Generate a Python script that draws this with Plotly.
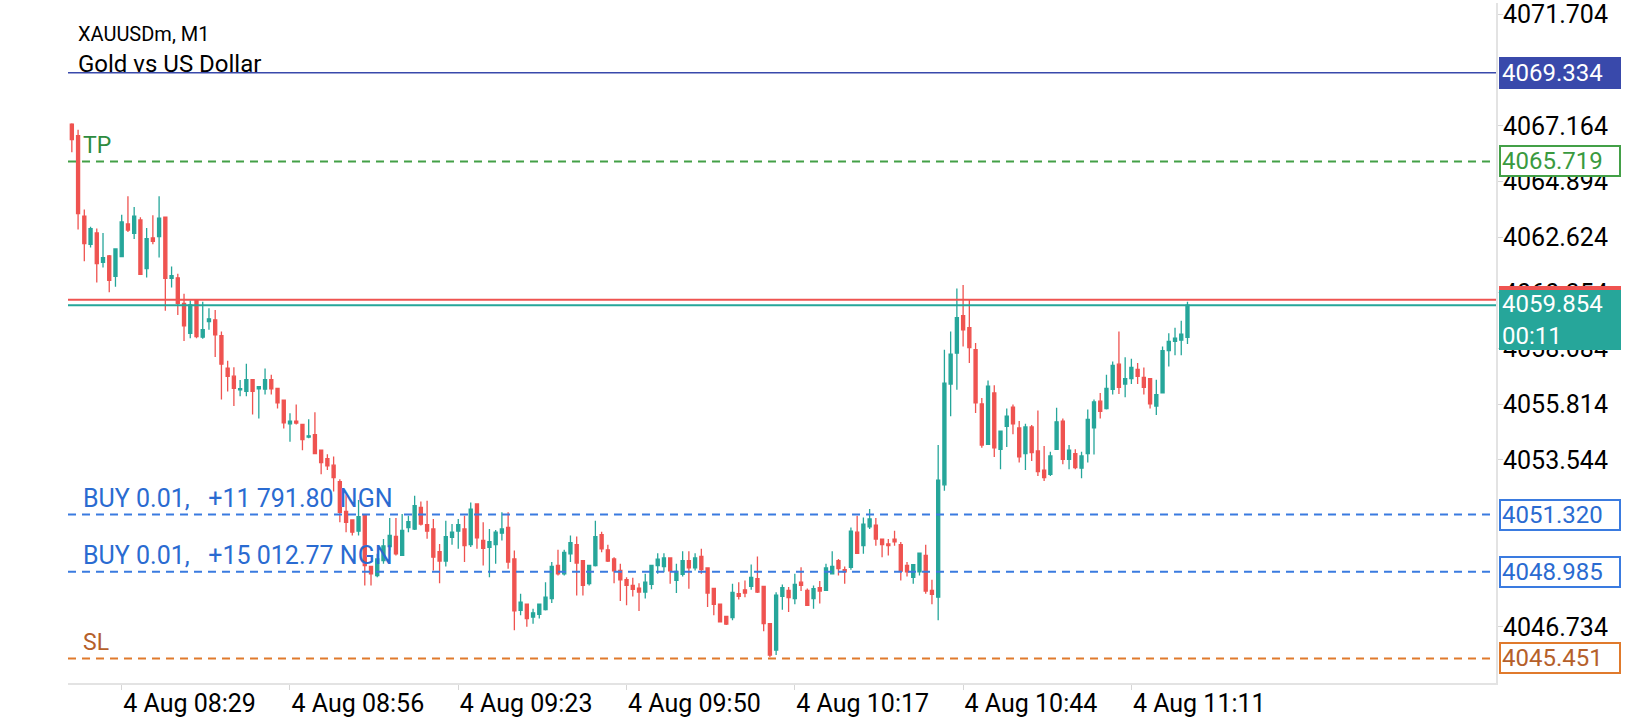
import datetime
import plotly.graph_objects as go

# M1 bars, XAUUSDm, 4 Aug, first bar 08:21
start = datetime.datetime(2025, 8, 4, 8, 21)

opens = [
  4067.24, 4066.77, 4063.49, 4062.34, 4062.80, 4061.60, 4061.87, 4061.03, 4061.84, 4063.17,
  4062.79, 4063.33, 4061.35, 4062.60, 4062.65, 4063.45, 4060.95, 4060.97, 4059.93, 4058.71,
  4060.05, 4058.55, 4059.19, 4059.26, 4058.61, 4057.29, 4056.96, 4056.40, 4056.34, 4056.82,
  4056.44, 4056.43, 4056.82, 4056.46, 4055.98, 4055.02, 4055.13, 4054.99, 4054.48, 4054.58,
  4053.94, 4053.60, 4053.33, 4052.66, 4051.45, 4051.10, 4050.64, 4051.31, 4049.20, 4048.83,
  4049.44, 4050.01, 4050.43, 4049.65, 4050.79, 4050.73, 4051.61, 4050.91, 4050.73, 4049.81,
  4049.42, 4050.39, 4050.64, 4050.73, 4050.09, 4051.75, 4050.26, 4049.98, 4050.09, 4050.56,
  4050.79, 4049.51, 4047.41, 4047.66, 4047.14, 4047.25, 4047.44, 4047.89, 4049.24, 4048.90,
  4049.72, 4050.09, 4049.44, 4048.50, 4049.24, 4050.50, 4049.88, 4049.51, 4049.04, 4048.66,
  4048.43, 4048.32, 4048.16, 4048.47, 4049.24, 4049.20, 4049.55, 4048.63, 4048.88, 4049.44,
  4049.14, 4049.61, 4049.14, 4048.31, 4047.66, 4047.17, 4047.12, 4048.09, 4048.25, 4048.39,
  4048.70, 4048.39, 4046.87, 4045.79, 4047.98, 4048.23, 4047.89, 4048.56, 4048.23, 4047.89,
  4048.34, 4048.23, 4048.90, 4049.44, 4049.07, 4049.17, 4050.60, 4050.05, 4050.82, 4050.89,
  4050.32, 4050.12, 4050.32, 4050.09, 4049.24, 4048.76, 4048.98, 4049.65, 4048.23, 4047.95,
  4052.53, 4056.64, 4057.90, 4059.43, 4058.94, 4058.04, 4055.83, 4054.18, 4056.28, 4053.98,
  4054.92, 4055.70, 4054.85, 4053.80, 4054.89, 4053.91, 4053.13, 4052.96, 4053.98, 4055.13,
  4053.57, 4053.80, 4053.21, 4053.80, 4054.85, 4055.94, 4055.64, 4056.42, 4057.45, 4056.64,
  4056.86, 4057.24, 4056.91, 4056.86, 4055.74, 4056.28, 4058.00, 4058.38, 4058.43, 4058.54,
]
highs = [
  4067.28, 4067.01, 4063.76, 4063.05, 4062.98, 4062.80, 4061.90, 4062.15, 4063.54, 4064.30,
  4063.86, 4063.44, 4063.00, 4063.52, 4064.30, 4063.45, 4061.43, 4061.14, 4060.32, 4060.05,
  4060.05, 4060.00, 4059.73, 4059.66, 4058.78, 4057.59, 4057.33, 4056.81, 4057.47, 4056.82,
  4056.53, 4057.27, 4057.02, 4056.46, 4055.98, 4055.45, 4055.81, 4054.99, 4055.20, 4055.49,
  4053.94, 4053.78, 4053.69, 4052.76, 4052.15, 4051.10, 4051.91, 4051.34, 4049.20, 4049.72,
  4050.32, 4051.18, 4051.18, 4051.34, 4051.27, 4052.08, 4051.85, 4051.88, 4051.14, 4050.12,
  4051.07, 4050.93, 4051.14, 4051.27, 4051.81, 4051.77, 4051.00, 4050.73, 4050.69, 4051.41,
  4051.41, 4049.85, 4048.09, 4047.66, 4047.48, 4047.66, 4048.56, 4049.38, 4049.88, 4049.88,
  4050.46, 4050.42, 4049.44, 4049.24, 4051.07, 4050.62, 4050.09, 4049.58, 4049.31, 4048.76,
  4048.74, 4048.52, 4048.90, 4049.24, 4049.74, 4049.74, 4049.55, 4049.31, 4049.82, 4049.82,
  4049.74, 4049.92, 4049.14, 4048.31, 4047.66, 4047.17, 4048.50, 4048.56, 4048.63, 4049.28,
  4049.61, 4048.39, 4046.87, 4048.15, 4048.47, 4048.36, 4048.90, 4049.17, 4048.30, 4048.43,
  4048.61, 4049.31, 4049.82, 4049.51, 4049.20, 4050.79, 4051.27, 4051.20, 4051.54, 4051.18,
  4050.32, 4050.32, 4050.66, 4050.20, 4049.38, 4049.28, 4049.74, 4050.09, 4048.66, 4054.15,
  4058.04, 4058.78, 4060.54, 4060.68, 4060.07, 4058.31, 4056.07, 4056.78, 4056.59, 4054.72,
  4055.64, 4055.81, 4055.13, 4055.02, 4054.97, 4055.56, 4054.11, 4053.88, 4055.67, 4055.24,
  4054.15, 4053.98, 4053.88, 4055.60, 4056.01, 4056.28, 4057.02, 4057.56, 4058.78, 4057.73,
  4057.67, 4057.50, 4057.32, 4056.86, 4056.82, 4058.17, 4058.71, 4058.94, 4059.22, 4060.00,
]
lows = [
  4066.09, 4062.94, 4061.65, 4062.21, 4060.78, 4061.39, 4060.38, 4060.61, 4061.84, 4062.84,
  4062.55, 4061.11, 4060.99, 4062.34, 4061.80, 4059.63, 4060.58, 4059.46, 4058.40, 4058.51,
  4058.51, 4058.49, 4058.85, 4057.74, 4056.01, 4056.34, 4055.74, 4056.14, 4056.14, 4055.40,
  4055.24, 4056.21, 4056.21, 4055.64, 4054.83, 4054.29, 4054.99, 4053.94, 4054.43, 4053.80,
  4052.96, 4053.13, 4052.26, 4051.00, 4050.60, 4050.46, 4050.46, 4048.43, 4048.43, 4048.76,
  4049.31, 4049.85, 4049.65, 4049.65, 4050.60, 4050.69, 4050.87, 4050.33, 4049.04, 4048.52,
  4049.20, 4050.09, 4049.92, 4049.38, 4049.99, 4049.92, 4049.24, 4048.76, 4049.31, 4050.26,
  4049.11, 4046.60, 4047.21, 4046.74, 4046.87, 4047.08, 4047.41, 4047.71, 4048.83, 4048.83,
  4049.38, 4048.02, 4048.02, 4048.43, 4049.20, 4049.78, 4049.38, 4048.52, 4047.79, 4047.62,
  4047.98, 4047.39, 4047.89, 4048.27, 4048.90, 4048.97, 4048.50, 4048.12, 4048.79, 4048.29,
  4049.04, 4048.90, 4047.55, 4047.21, 4046.94, 4046.81, 4047.01, 4047.85, 4047.95, 4048.25,
  4048.12, 4046.56, 4045.50, 4045.59, 4047.44, 4047.34, 4047.66, 4048.20, 4047.62, 4047.48,
  4047.69, 4048.23, 4048.88, 4048.83, 4048.50, 4049.07, 4049.74, 4049.72, 4050.73, 4050.05,
  4049.58, 4049.65, 4050.05, 4048.63, 4048.79, 4048.50, 4048.83, 4048.09, 4047.66, 4047.01,
  4052.29, 4055.33, 4056.41, 4058.17, 4057.50, 4055.46, 4054.04, 4054.15, 4053.67, 4053.17,
  4054.07, 4054.59, 4053.44, 4053.13, 4053.50, 4052.89, 4052.69, 4052.89, 4053.98, 4053.37,
  4053.17, 4053.17, 4052.80, 4053.44, 4053.77, 4055.24, 4055.60, 4056.21, 4056.23, 4056.10,
  4056.64, 4056.64, 4056.21, 4055.64, 4055.38, 4056.28, 4057.36, 4057.81, 4057.81, 4058.27,
]
closes = [
  4066.61, 4063.59, 4062.37, 4062.98, 4061.55, 4061.79, 4060.87, 4062.15, 4063.25, 4062.92,
  4063.49, 4061.11, 4062.57, 4062.46, 4063.41, 4060.95, 4061.06, 4059.93, 4059.01, 4059.87,
  4058.58, 4058.86, 4059.30, 4058.65, 4057.45, 4056.95, 4056.46, 4056.45, 4056.82, 4056.34,
  4056.53, 4056.82, 4056.44, 4055.87, 4055.06, 4055.13, 4055.05, 4054.37, 4054.53, 4053.80,
  4053.44, 4053.30, 4052.83, 4051.41, 4051.00, 4050.60, 4051.23, 4049.24, 4048.90, 4049.51,
  4050.04, 4050.47, 4049.72, 4050.67, 4051.03, 4051.68, 4050.93, 4050.64, 4049.58, 4049.42,
  4050.42, 4050.60, 4050.91, 4050.05, 4051.54, 4050.37, 4049.94, 4050.21, 4050.60, 4050.73,
  4049.38, 4047.39, 4047.75, 4047.08, 4047.31, 4047.66, 4047.95, 4049.20, 4048.90, 4049.77,
  4050.17, 4049.34, 4048.43, 4049.24, 4050.42, 4049.92, 4049.42, 4049.02, 4048.66, 4048.43,
  4048.27, 4048.16, 4048.56, 4049.24, 4049.50, 4049.55, 4049.02, 4049.00, 4049.44, 4049.14,
  4049.55, 4049.07, 4048.12, 4047.66, 4046.94, 4046.85, 4048.14, 4047.98, 4048.12, 4048.76,
  4048.16, 4046.87, 4045.59, 4048.03, 4048.34, 4047.93, 4048.47, 4048.43, 4047.62, 4048.30,
  4048.20, 4049.14, 4049.20, 4049.11, 4048.98, 4050.64, 4049.74, 4050.93, 4051.14, 4050.32,
  4050.09, 4050.05, 4050.20, 4049.01, 4048.98, 4049.28, 4049.74, 4048.20, 4048.06, 4052.72,
  4056.68, 4057.86, 4059.35, 4058.85, 4058.13, 4055.87, 4054.15, 4056.55, 4054.04, 4054.72,
  4055.33, 4055.02, 4053.67, 4054.89, 4053.84, 4053.07, 4052.83, 4053.71, 4055.10, 4053.57,
  4053.94, 4053.23, 4053.71, 4055.20, 4055.91, 4055.53, 4056.46, 4057.40, 4056.51, 4056.86,
  4057.32, 4056.95, 4056.51, 4055.83, 4056.21, 4058.00, 4058.38, 4058.51, 4058.67, 4059.854,
]
times = [start + datetime.timedelta(minutes=i) for i in range(len(closes))]

tick_times = ['08:29', '08:56', '09:23', '09:50', '10:17', '10:44', '11:11']
# the other scale steps (4069.434, 4051.274, 4049.004) sit under the level boxes
price_ticks = [4071.704, 4067.164, 4064.894, 4062.624, 4060.354,
               4058.084, 4055.814, 4053.544, 4046.734]

level_price = 4069.334
tp_price = 4065.719
ask_price = 4060.074
bid_price = 4059.854
buy_prices = [4051.320, 4048.985]
gap = '\u00a0\u00a0\u00a0'
buy_texts = [f'BUY 0.01,{gap}+11 791.80 NGN', f'BUY 0.01,{gap}+15 012.77 NGN']
sl_price = 4045.451
timer_text = '00:11'

TEAL = '#26a69a'
RED = '#ef5350'
INDIGO = '#3949ab'
GREEN = '#43a047'
BLUE = '#3a7be0'
ORANGE = '#e07a2c'
FONT = 'Roboto, Arial, sans-serif'

fig = go.Figure()
fig.add_trace(go.Candlestick(
  x=times, open=opens, high=highs, low=lows, close=closes,
  increasing=dict(line=dict(color=TEAL, width=1.3), fillcolor=TEAL),
  decreasing=dict(line=dict(color=RED, width=1.3), fillcolor=RED),
  whiskerwidth=0, hoverinfo='skip', showlegend=False
))


def hline(y, color, width, dash='solid'):
  fig.add_shape(type='line', xref='paper', x0=0, x1=1, yref='y', y0=y, y1=y,
                line=dict(color=color, width=width, dash=dash))


def price_box(y, text, color, filled, textcolor=None, yanchor='middle', yshift=0, height=26):
  fig.add_annotation(
    xref='paper', yref='y', x=1.0, xshift=3, xanchor='left', y=y, yanchor=yanchor, yshift=yshift,
    text=text, showarrow=False, align='left', valign='middle', width=116, height=height,
    bgcolor=color if filled else 'white', bordercolor=color, borderwidth=2, borderpad=1,
    font=dict(family=FONT, size=24, color='white' if filled else (textcolor or color))
  )


def line_text(y, text, color, size):
  fig.add_annotation(xref='paper', yref='y', x=0, xshift=13, xanchor='left', y=y, yanchor='middle',
                     yshift=16, text=text, showarrow=False, font=dict(family=FONT, size=size, color=color))


hline(level_price, INDIGO, 1.5)
hline(tp_price, GREEN, 2, '8px,6px')
hline(ask_price, RED, 2)
hline(bid_price, TEAL, 2)
for p in buy_prices:
  hline(p, BLUE, 2, '8px,6px')
hline(sl_price, ORANGE, 2, '8px,6px')

line_text(tp_price, 'TP', '#2e8b3e', 23)
for p, t in zip(buy_prices, buy_texts):
  line_text(p, t, '#2a6bd1', 25)
line_text(sl_price, 'SL', '#b5602a', 23)

price_box(level_price, f'{level_price:.3f}', INDIGO, True)
price_box(tp_price, f'{tp_price:.3f}', GREEN, False, '#3a9a3f')
for p in buy_prices:
  price_box(p, f'{p:.3f}', BLUE, False, '#2a6bd1')
price_box(sl_price, f'{sl_price:.3f}', ORANGE, False, '#b5602a')
price_box(ask_price, f'{ask_price:.3f}', RED, True, yanchor='top', yshift=14)
price_box(bid_price, f'{bid_price:.3f}<br>{timer_text}', TEAL, True, yanchor='top', yshift=15, height=54)

fig.add_annotation(xref='paper', yref='paper', x=0, xshift=8, xanchor='left', y=1, yshift=-31,
                   yanchor='middle', text='XAUUSDm, M1', showarrow=False,
                   font=dict(family=FONT, size=20, color='black'))
fig.add_annotation(xref='paper', yref='paper', x=0, xshift=8, xanchor='left', y=1, yshift=-61,
                   yanchor='middle', text='Gold vs US Dollar', showarrow=False,
                   font=dict(family=FONT, size=24, color='black'))

fig.update_layout(
  width=1640, height=720,
  margin=dict(l=68, r=144, t=0, b=37),
  plot_bgcolor='white', paper_bgcolor='white',
  showlegend=False,
  font=dict(family=FONT, size=24, color='black'),
)
fig.update_xaxes(
  type='date',
  range=['2025-08-04 08:20:23', '2025-08-04 12:09:30'],
  rangeslider_visible=False,
  showgrid=False, zeroline=False,
  showline=True, linecolor='#e3e3e3', linewidth=2,
  ticks='outside', ticklen=5, tickcolor='#d6d6d6',
  tickvals=[f'2025-08-04 {t}' for t in tick_times],
  ticktext=[f'4 Aug {t}' for t in tick_times],
  ticklabelposition='outside right',
  ticklabelstandoff=-3,
  tickfont=dict(family=FONT, size=25, color='black'),
)
fig.update_yaxes(
  side='right',
  range=[4044.449, 4072.179],
  showgrid=False, zeroline=False,
  showline=True, linecolor='#e3e3e3', linewidth=2,
  ticks='outside', ticklen=5, tickcolor='#d6d6d6',
  tickvals=price_ticks,
  ticktext=[f'{v:.3f}' for v in price_ticks],
  ticklabeloverflow='allow',
  ticklabelstandoff=-5,
  tickfont=dict(family=FONT, size=25, color='black'),
)

fig.write_html('out.html', config={'displayModeBar': False},
               post_script="document.body.style.margin='0px';")
